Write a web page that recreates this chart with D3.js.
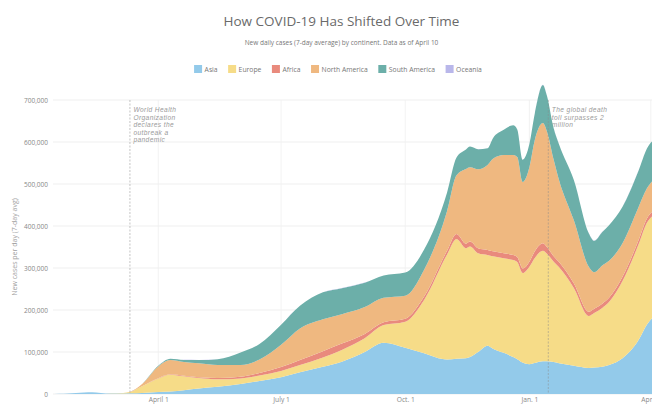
<!DOCTYPE html>
<html>
<head>
<meta charset="utf-8">
<script src="https://cdn.jsdelivr.net/npm/d3@7"></script>
<style>
  html, body { margin: 0; padding: 0; background: #fff; }
  svg { display: block; font-family: "Open Sans", sans-serif; }
</style>
</head>
<body>
<svg id="chart" width="652" height="404"></svg>
<script>
// New daily cases, 7-day average, in thousands, by continent
const dates = ["2020-01-15","2020-01-22","2020-01-28","2020-02-03","2020-02-09","2020-02-15","2020-02-22","2020-03-01","2020-03-11","2020-03-20",
  "2020-04-01","2020-04-10","2020-04-20","2020-05-01","2020-05-15","2020-06-01","2020-06-15","2020-07-01","2020-07-15","2020-08-01",
  "2020-08-15","2020-09-01","2020-09-15","2020-10-01","2020-10-15","2020-11-01","2020-11-08","2020-11-15",
  "2020-11-18","2020-11-24","2020-12-01","2020-12-05","2020-12-13","2020-12-20","2020-12-23","2020-12-27",
  "2021-01-01","2021-01-05","2021-01-11","2021-01-14","2021-01-19","2021-01-23",
  "2021-02-03","2021-02-14","2021-02-18","2021-02-24","2021-03-01","2021-03-11","2021-03-23","2021-03-29","2021-04-05","2021-04-10"];
const asia         = [0,0.3,1.8,3.2,4.2,3.6,1.3,1.0,1.5,2.5, 5,6,9,13,17,24,31,40,52,65, 77,100,122,110,97,82,84,85, 88,100,115,108,98,88,83,75, 71,74,78,78,76,73, 67,62,63,65,69,85,129,165,190,200];
const europe       = [0,0,0,0,0,0,0.05,0.5,3.5,16, 32,40,33,25,18,13,13,15,17,22, 28,33,42,62,127,250,285,262, 263,235,216,220,225,231,231,213, 232,250,263,256,239,229, 185,124,130,140,150,184,228,242,240,238];
const africa       = [0,0,0,0,0,0,0,0,0.05,0.2, 0.6,0.9,1.2,2,3,4,6,9,12,15, 15,10,7,7,8,9,12,11, 12,12,12,12,12,12,12,11, 12,16,18,16,13,12, 11,10,10,10,10,10,10,10,11,11];
const northAmerica = [0,0,0,0,0,0,0,0.02,0.4,5, 28,34,33,33,31,28,32,53,75,76, 70,64,58,55,64,95,140,178, 177,188,202,220,234,238,238,206, 225,265,286,275,230,195, 150,107,87,91,88,80,79,72,75,78];
const southAmerica = [0,0,0,0,0,0,0,0,0.05,0.3, 1.5,3,5,8,14,30,37,48,54,64, 62,58,53,55,48,44,42,46, 49,48,40,49,60,71,66,53, 55,63,91,85,75,85, 96,80,75,80,85,87,87,95,95,100];
const oceania      = [0,0,0,0,0,0,0,0,0.02,0.1, 0.4,0.3,0.1,0.05,0.02,0.02,0.03,0.15,0.35,0.5, 0.4,0.2,0.08,0.05,0.05,0.05,0.05,0.05, 0.05,0.05,0.05,0.05,0.05,0.05,0.05,0.05, 0.05,0.05,0.05,0.05,0.05,0.05, 0.05,0.05,0.05,0.05,0.05,0.05,0.05,0.05,0.05,0.05];

const continents = ["Asia", "Europe", "Africa", "North America", "South America", "Oceania"];
const seriesValues = [asia, europe, africa, northAmerica, southAmerica, oceania];
const colors = ["#93caea", "#f6dc88", "#e98a7d", "#efb880", "#6cafa9", "#b9b7ea"];

const yTicks = [0, 100000, 200000, 300000, 400000, 500000, 600000, 700000];
const xTickDates = ["2020-04-01", "2020-07-01", "2020-10-01", "2021-01-01", "2021-04-01"];
const xTickLabels = ["April 1", "July 1", "Oct. 1", "Jan. 1", "April 1"];

const events = [
  { date: "2020-03-11", lines: ["World Health", "Organization", "declares the", "outbreak a", "pandemic"] },
  { date: "2021-01-15", lines: ["The global death", "toll surpasses 2", "million"] }
];

const parse = d3.timeParse("%Y-%m-%d");
const rows = dates.map((d, i) => {
  const r = { date: parse(d) };
  continents.forEach((c, k) => { r[c] = seriesValues[k][i] * 1000; });
  return r;
});

const svg = d3.select("#chart");
const W = 652;
const plotLeft = 53, plotTop = 100, plotBottom = 394;

const x = d3.scaleTime()
  .domain([parse("2020-01-14"), parse("2021-04-10")])
  .range([plotLeft, 663]);
const y = d3.scaleLinear().domain([0, 700000]).range([plotBottom, plotTop]);

// Title block
svg.append("text").attr("x", 341.5).attr("y", 26.3).attr("text-anchor", "middle")
  .attr("font-size", 13.5).attr("fill", "#6a6a6a")
  .text("How COVID-19 Has Shifted Over Time");
svg.append("text").attr("x", 341.5).attr("y", 45).attr("text-anchor", "middle")
  .attr("font-size", 6.5).attr("fill", "#777")
  .text("New daily cases (7-day average) by continent. Data as of April 10");

// Legend
const legend = svg.append("g");
const items = legend.selectAll("g").data(continents).join("g");
items.append("rect").attr("width", 8).attr("height", 8).attr("y", 65)
  .attr("fill", (d, i) => colors[i]);
items.append("text").attr("x", 10.5).attr("y", 71.8)
  .attr("font-size", 6.8).attr("fill", "#777").text(d => d);
let cursor = 0;
items.each(function () {
  const w = 10.5 + this.querySelector("text").getComputedTextLength();
  d3.select(this).attr("transform", `translate(${cursor},0)`);
  cursor += w + 10.5;
});
const legendWidth = cursor - 10.5;
legend.attr("transform", `translate(${338 - legendWidth / 2},0)`);

// Grid
const grid = svg.append("g");
grid.selectAll("line.h").data(yTicks).join("line")
  .attr("x1", plotLeft).attr("x2", W)
  .attr("y1", d => y(d)).attr("y2", d => y(d))
  .attr("stroke", "#ebebeb").attr("stroke-width", 0.8);
grid.selectAll("line.v").data(xTickDates).join("line")
  .attr("x1", d => x(parse(d))).attr("x2", d => x(parse(d)))
  .attr("y1", plotTop).attr("y2", plotBottom)
  .attr("stroke", "#efefef").attr("stroke-width", 0.8);

// Y axis
const yAxis = svg.append("g").attr("transform", `translate(${plotLeft},0)`)
  .call(d3.axisLeft(y).tickValues(yTicks).tickFormat(d3.format(",")).tickSize(0).tickPadding(5));
yAxis.select(".domain").remove();
yAxis.selectAll("text").attr("font-size", 6.5).attr("fill", "#888").attr("font-family", "Open Sans, sans-serif");

svg.append("text")
  .attr("transform", "translate(16.5,247) rotate(-90)")
  .attr("text-anchor", "middle").attr("font-size", 7).attr("fill", "#a0a0a0")
  .text("New cases per day (7-day avg)");

// X axis
const xAxis = svg.append("g").attr("transform", `translate(0,${plotBottom})`)
  .call(d3.axisBottom(x).tickValues(xTickDates.map(parse))
    .tickFormat((d, i) => xTickLabels[i]).tickSize(0).tickPadding(3.5));
xAxis.select(".domain").remove();
xAxis.selectAll("text").attr("font-size", 6.7).attr("fill", "#888").attr("font-family", "Open Sans, sans-serif");

// Event notes (beneath the areas)
const notes = svg.append("g");
events.forEach(ev => {
  const ex = x(parse(ev.date));
  ev.lines.forEach((ln, i) => {
    notes.append("text")
      .attr("x", ex + 3.5).attr("y", 112.3 + i * 7.4)
      .attr("font-family", "Liberation Sans, Arial, sans-serif")
      .attr("font-size", 6.6).attr("font-style", "italic")
      .attr("letter-spacing", 0.4).attr("fill", "#9a9a9a")
      .text(ln);
  });
});

// Stacked areas
const stack = d3.stack().keys(continents);
const layers = stack(rows);
const area = d3.area()
  .x(d => x(d.data.date))
  .y0(d => y(d[0]))
  .y1(d => y(d[1]))
  .curve(d3.curveMonotoneX);

svg.append("clipPath").attr("id", "plot-clip")
  .append("rect").attr("x", plotLeft).attr("y", 0).attr("width", W - plotLeft).attr("height", plotBottom + 0.5);

svg.append("g").attr("clip-path", "url(#plot-clip)")
  .selectAll("path").data(layers).join("path")
  .attr("d", area)
  .attr("fill", (d, i) => colors[i]);

// Event markers
svg.append("g").selectAll("line").data(events).join("line")
  .attr("x1", d => x(parse(d.date))).attr("x2", d => x(parse(d.date)))
  .attr("y1", plotTop).attr("y2", plotBottom)
  .attr("stroke", "#8a8a8a").attr("stroke-width", 0.7)
  .attr("stroke-dasharray", "2,1.5").attr("opacity", 0.7);
</script>
</body>
</html>
